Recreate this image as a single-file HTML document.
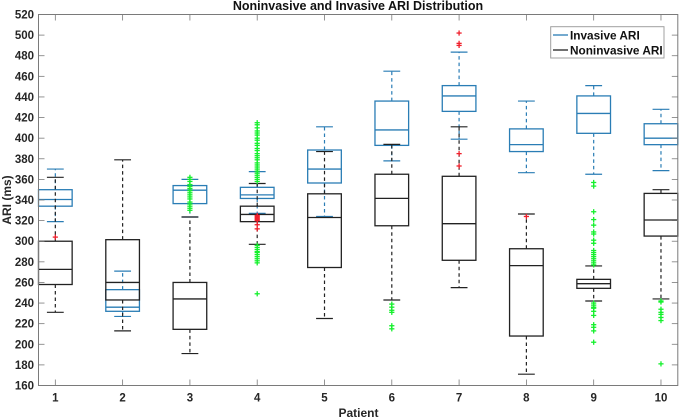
<!DOCTYPE html>
<html>
<head>
<meta charset="utf-8">
<style>
html,body{margin:0;padding:0;background:#fff;}
svg{display:block;}
text{font-family:"Liberation Sans",sans-serif;font-weight:bold;fill:#262626;}
</style>
</head>
<body>
<svg id="chart" xmlns="http://www.w3.org/2000/svg" width="679" height="418" viewBox="0 0 679 418">
<rect x="0" y="0" width="679" height="418" fill="#fff"/>
<text x="358" y="10" font-size="12.5" text-anchor="middle" style="fill:#111">Noninvasive and Invasive ARI Distribution</text>
<text x="358.5" y="416.8" font-size="12" text-anchor="middle">Patient</text>
<text x="0" y="0" font-size="12" text-anchor="middle" transform="translate(11,200) rotate(-90)">ARI (ms)</text>
<g id="plot"></g>
<g id="axes"></g>
<g>
<rect x="550.7" y="26.7" width="113.3" height="31.3" fill="#fff" stroke="#a0a0a0" stroke-width="1"/>
<line x1="553" y1="35" x2="568" y2="35" stroke="#2a7db5" stroke-width="1.3"/>
<text x="570" y="39.5" font-size="11.8" style="fill:#111">Invasive ARI</text>
<line x1="553" y1="50" x2="568" y2="50" stroke="#222" stroke-width="1.3"/>
<text x="570" y="54.5" font-size="11.8" style="fill:#111">Noninvasive ARI</text>
</g>
</svg>
<script>
const patients = [1,2,3,4,5,6,7,8,9,10];
const yTicks = [160,180,200,220,240,260,280,300,320,340,360,380,400,420,440,460,480,500,520];

const invasiveLow = [319,227,323.5,327,324,378,399,366.5,365,368.5];
const invasiveQ1 = [334,232,336.5,341.5,356.5,393,426,387,404.7,393.7];
const invasiveMedian = [340.5,236,349.5,345,370,408,441,393.7,424,400];
const invasiveQ3 = [350,253,354,352.3,388.5,436,451,409,441,414];
const invasiveHigh = [370,271,360,367.5,411,465,483.5,436,451,428];

const noninvasiveLow = [231,213,191,297,225,243,255,171,242,244];
const noninvasiveQ1 = [258,243,214.5,319,274.5,315,281.5,208,254.3,305];
const noninvasiveMedian = [272.7,260,244,326,323,341.6,317,276.3,258.8,320.6];
const noninvasiveQ3 = [300,301.5,260,334,346,365,363,292.7,263,346.4];
const noninvasiveHigh = [362,379,323.5,356,387,394,411,326.4,276,350];

const invasiveOutliers = [
  [304],
  [],
  [],
  [325,324,323,322,321,320,316,312],
  [],
  [],
  [502,492,490,385,373],
  [324],
  [],
  []
];
const noninvasiveOutliers = [
  [],
  [],
  [362,360,358,355,353,351,349,347,345,343,341,338,336,334,332,330],
  [415,413,410,407,405,403,400,398,395,393,390,388,385,383,381,379,376,374,372,370,368,366,364,362,360,358,296,294,292,290,289,287,285,283,281,279,249],
  [],
  [239,236,233,231,218,215],
  [],
  [],
  [357,353.5,328.6,321,315.6,309,307,301,298,291,289,287,285,283,281,279,277,240,238,236,235,232,228,219,216.5,213,202],
  [242,241,234,231,229,226,223,181]
];

const NS = 'http://www.w3.org/2000/svg';
const plot = document.getElementById('plot');
const axes = document.getElementById('axes');
const left = 38.5, right = 677.8, top_ = 14.5, bottom = 385.5;
const xMin = 0.75, xMax = 10.25, yMin = 160, yMax = 520;
function xScale(p){ return left + (p - xMin) / (xMax - xMin) * (right - left); }
function yScale(v){ return bottom - (v - yMin) / (yMax - yMin) * (bottom - top_); }

function makeLine(parent, x1, y1, x2, y2, color, width, dash){
  const l = document.createElementNS(NS, 'line');
  l.setAttribute('x1', x1);
  l.setAttribute('y1', y1);
  l.setAttribute('x2', x2);
  l.setAttribute('y2', y2);
  l.setAttribute('stroke', color);
  l.setAttribute('stroke-width', width);
  if (dash) l.setAttribute('stroke-dasharray', dash);
  parent.appendChild(l);
  return l;
}

function drawBox(p, lo, q1, med, q3, hi, color, prefix){
  const g = document.createElementNS(NS, 'g');
  
  
  const cx = xScale(p);
  const hw = (xScale(1.25) - xScale(1));
  const cap = hw / 2;
  const upper = makeLine(g, cx, yScale(q3), cx, yScale(hi), color, 1.2, '3.5 3');
  
  
  const lower = makeLine(g, cx, yScale(q1), cx, yScale(lo), color, 1.2, '3.5 3');
  
  
  const capHi = makeLine(g, cx - cap, yScale(hi), cx + cap, yScale(hi), color, 1.2);
  
  
  const capLo = makeLine(g, cx - cap, yScale(lo), cx + cap, yScale(lo), color, 1.2);
  
  
  const r = document.createElementNS(NS, 'rect');
  r.setAttribute('x', cx - hw);
  r.setAttribute('y', yScale(q3));
  r.setAttribute('width', hw * 2);
  r.setAttribute('height', yScale(q1) - yScale(q3));
  r.setAttribute('fill', 'none');
  r.setAttribute('stroke', color);
  r.setAttribute('stroke-width', 1.3);
  
  
  g.appendChild(r);
  const m = makeLine(g, cx - hw, yScale(med), cx + hw, yScale(med), color, 1.3);
  
  
  plot.appendChild(g);
}

function drawOutlier(p, v, color, prefix){
  const cx = xScale(p), cy = yScale(v), s = 2.6;
  const g = document.createElementNS(NS, 'g');
  
  
  makeLine(g, cx - s, cy, cx + s, cy, color, 1.3);
  makeLine(g, cx, cy - s, cx, cy + s, color, 1.3);
  plot.appendChild(g);
}

patients.forEach(function(p, i){
  drawBox(p, invasiveLow[i], invasiveQ1[i], invasiveMedian[i], invasiveQ3[i], invasiveHigh[i], '#2a7db5', 'invasive');
});
patients.forEach(function(p, i){
  drawBox(p, noninvasiveLow[i], noninvasiveQ1[i], noninvasiveMedian[i], noninvasiveQ3[i], noninvasiveHigh[i], '#222222', 'noninvasive');
});
patients.forEach(function(p, i){
  noninvasiveOutliers[i].forEach(function(v){ drawOutlier(p, v, '#14f02c', 'noninvasive'); });
  invasiveOutliers[i].forEach(function(v){ drawOutlier(p, v, '#f0202c', 'invasive'); });
});

const axisColor = '#7a7a7a';
const frame = document.createElementNS(NS, 'rect');
frame.setAttribute('x', left);
frame.setAttribute('y', top_);
frame.setAttribute('width', right - left);
frame.setAttribute('height', bottom - top_);
frame.setAttribute('fill', 'none');
frame.setAttribute('stroke', axisColor);
frame.setAttribute('stroke-width', 1);


axes.appendChild(frame);

yTicks.forEach(function(v){
  const y = yScale(v);
  const t1 = makeLine(axes, left, y, left + 6, y, axisColor, 0.8);
  
  
  const t2 = makeLine(axes, right - 6, y, right, y, axisColor, 0.8);
  
  
  const t = document.createElementNS(NS, 'text');
  t.setAttribute('x', 34);
  t.setAttribute('y', y + 4);
  t.setAttribute('font-size', '11.5');
  t.setAttribute('text-anchor', 'end');
  
  
  t.textContent = v;
  axes.appendChild(t);
});
patients.forEach(function(p){
  const x = xScale(p);
  const t1 = makeLine(axes, x, bottom, x, bottom - 6, axisColor, 0.8);
  
  
  const t2 = makeLine(axes, x, top_, x, top_ + 6, axisColor, 0.8);
  
  
  const t = document.createElementNS(NS, 'text');
  t.setAttribute('x', x);
  t.setAttribute('y', 401.7);
  t.setAttribute('font-size', '11.5');
  t.setAttribute('text-anchor', 'middle');
  
  
  t.textContent = p;
  axes.appendChild(t);
});
</script>
</body>
</html>
